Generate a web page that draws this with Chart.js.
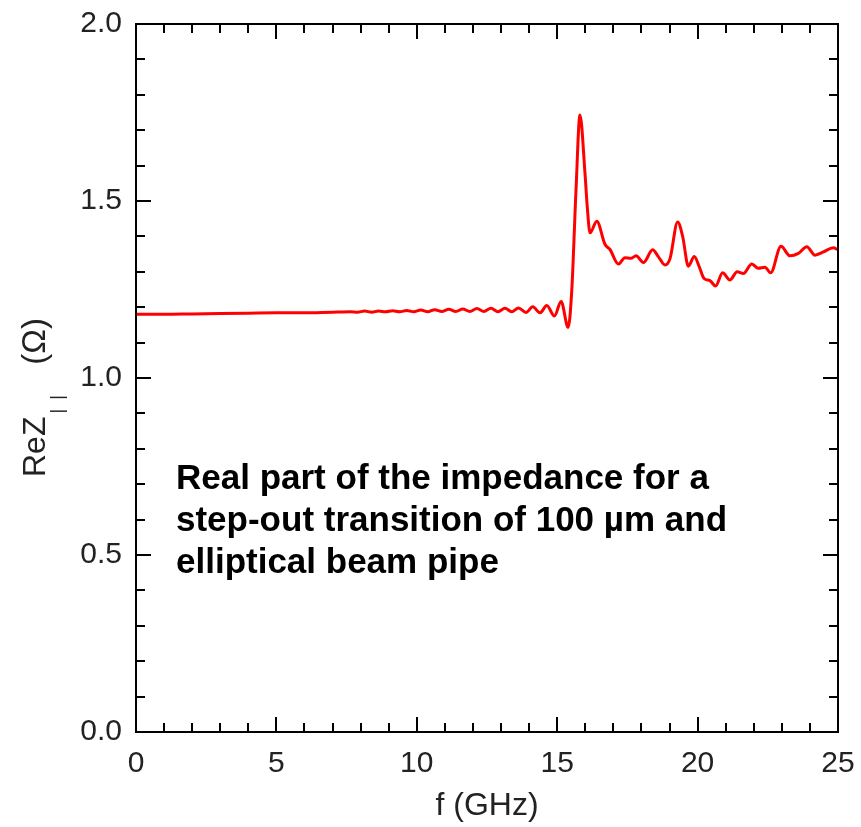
<!DOCTYPE html>
<html>
<head>
<meta charset="utf-8">
<script src="https://cdn.jsdelivr.net/npm/chart.js@4.4.1/dist/chart.umd.min.js"></script>
<style>
html,body{margin:0;padding:0;background:#fff;}
#wrap{width:861px;height:827px;position:relative;}
</style>
</head>
<body>
<div id="wrap"><canvas id="c" width="861" height="827"></canvas></div>
<script>
const freqGHz = [0,1,2,3,4,5,6,7,7.64,7.89,8.14,8.39,8.64,8.89,9.14,9.39,9.64,9.89,10.14,10.39,10.64,10.89,11.14,11.39,11.64,11.89,12.14,12.39,12.64,12.89,13.14,13.38,13.62,13.89,14.13,14.39,14.63,14.90,15.14,15.39,15.52,15.67,15.81,15.99,16.07,16.17,16.41,16.70,16.88,17.18,17.41,17.62,17.81,18.07,18.40,18.60,18.84,19.02,19.29,19.47,19.67,19.88,20.06,20.23,20.44,20.64,20.89,21.15,21.41,21.63,21.93,22.16,22.40,22.60,22.97,23.29,23.59,23.89,24.18,24.48,24.83,25.00];
const reZ = [1.180,1.180,1.181,1.182,1.183,1.184,1.184,1.186,1.187,1.186,1.189,1.186,1.189,1.187,1.190,1.187,1.191,1.187,1.192,1.187,1.193,1.188,1.194,1.188,1.195,1.188,1.196,1.188,1.197,1.187,1.197,1.187,1.198,1.185,1.201,1.184,1.205,1.175,1.216,1.143,1.249,1.531,1.743,1.578,1.484,1.410,1.443,1.378,1.363,1.322,1.340,1.338,1.345,1.326,1.362,1.343,1.319,1.338,1.441,1.399,1.316,1.343,1.314,1.281,1.275,1.260,1.297,1.277,1.300,1.295,1.322,1.310,1.313,1.297,1.372,1.345,1.352,1.371,1.347,1.356,1.368,1.362];
const xTickLabels = ['0','5','10','15','20','25'];
const yTickLabels = ['0.0','0.5','1.0','1.5','2.0'];
const xTitle = 'f (GHz)';
const yTitleMain = 'ReZ';
const yTitleSub = '||';
const yTitleUnit = '(Ω)';
const noteLines = ['Real part of the impedance for a','step-out transition of 100 µm and','elliptical beam pipe'];

const FONT = '"Liberation Sans", Arial, "Helvetica", sans-serif';

const framePlugin = {
  id: 'frame',
  afterDraw(chart) {
    const ctx = chart.ctx, a = chart.chartArea;
    const xs = chart.scales.x, ys = chart.scales.y;
    ctx.save();
    ctx.strokeStyle = '#000';
    ctx.lineWidth = 2;
    ctx.strokeRect(a.left, a.top, a.right - a.left, a.bottom - a.top);
    ctx.beginPath();
    for (let v = 1; v < 25; v += 1) {
      const px = Math.round(xs.getPixelForValue(v));
      const len = (v % 5 === 0) ? 15 : 9;
      ctx.moveTo(px, a.bottom); ctx.lineTo(px, a.bottom - len);
      ctx.moveTo(px, a.top); ctx.lineTo(px, a.top + len);
    }
    for (let i = 1; i < 20; i++) {
      const py = Math.round(ys.getPixelForValue(i / 10));
      const len = (i % 5 === 0) ? 15 : 9;
      ctx.moveTo(a.left, py); ctx.lineTo(a.left + len, py);
      ctx.moveTo(a.right, py); ctx.lineTo(a.right - len, py);
    }
    ctx.stroke();

    // y title with subscript
    ctx.fillStyle = '#222';
    ctx.translate(45, 477);
    ctx.rotate(-Math.PI / 2);
    ctx.textBaseline = 'alphabetic';
    ctx.textAlign = 'left';
    ctx.font = '32px ' + FONT;
    ctx.fillText(yTitleMain, 0, 0);
    const w1 = ctx.measureText(yTitleMain).width;
    ctx.font = '18px ' + FONT;
    try { ctx.letterSpacing = '9px'; } catch (e) {}
    ctx.fillText(yTitleSub, w1 + 3, 18);
    try { ctx.letterSpacing = '0px'; } catch (e) {}
    ctx.font = '33px ' + FONT;
    const w3 = ctx.measureText(yTitleUnit).width;
    ctx.fillText(yTitleUnit, 159 - w3, 0);
    ctx.restore();

    // annotation
    ctx.save();
    ctx.fillStyle = '#000';
    ctx.font = 'bold 35px ' + FONT;
    ctx.textAlign = 'left';
    ctx.textBaseline = 'alphabetic';
    const base = [489, 531, 573];
    noteLines.forEach((t, i) => ctx.fillText(t, 176, base[i]));
    ctx.restore();
  }
};

new Chart(document.getElementById('c'), {
  type: 'line',
  data: {
    datasets: [{
      data: freqGHz.map((f, i) => ({x: f, y: reZ[i]})),
      borderColor: '#ff0000',
      borderWidth: 3,
      pointRadius: 0,
      fill: false,
      cubicInterpolationMode: 'monotone'
    }]
  },
  options: {
    responsive: false,
    animation: false,
    layout: {padding: {top: 24, right: 23, left: 0, bottom: 0}},
    plugins: {legend: {display: false}, tooltip: {enabled: false}},
    scales: {
      x: {
        type: 'linear', min: 0, max: 25,
        afterFit(s) { s.height = 95; s.paddingLeft = 0; s.paddingRight = 0; },
        border: {display: false},
        grid: {display: false, drawTicks: false},
        ticks: {
          stepSize: 5, padding: 14, color: '#222',
          font: {size: 30, family: FONT},
          callback: (v) => xTickLabels[v / 5]
        },
        title: {display: true, text: xTitle, color: '#222', font: {size: 32, family: FONT}, padding: {top: 0, bottom: 2}}
      },
      y: {
        type: 'linear', min: 0, max: 2,
        afterFit(s) { s.width = 136; s.paddingTop = 0; s.paddingBottom = 0; },
        border: {display: false},
        grid: {display: false, drawTicks: false},
        ticks: {
          stepSize: 0.5, padding: 14, color: '#222',
          font: {size: 30, family: FONT},
          callback: (v) => yTickLabels[Math.round(v * 2)]
        }
      }
    }
  },
  plugins: [framePlugin]
});
</script>
</body>
</html>
